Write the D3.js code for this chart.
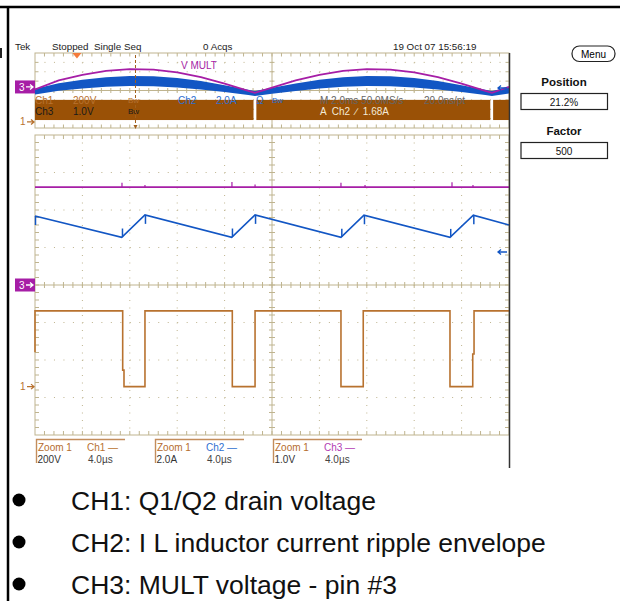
<!DOCTYPE html>
<html>
<head>
<meta charset="utf-8">
<script src="https://cdn.jsdelivr.net/npm/d3@7"></script>
<style>
  body { margin: 0; background: #fff; }
  svg { display: block; }
  text { font-family: "Liberation Sans", Arial, sans-serif; }
</style>
</head>
<body>
<script>
// ---- overview window (2.0 ms/div), levels in divisions from screen centre
const overTimes   = [0, 1, 2, 3, 4, 5, 6, 7, 8, 9, 9.28, 10, 11, 12, 13, 14, 15, 16, 17, 18, 19, 19.28, 20];
const multLevels  = [0.12, 1.07, 1.66, 2.09, 2.28, 2.23, 1.94, 1.42, 0.74, -0.04, -0.25, 0.31, 1.07, 1.66, 2.09, 2.28, 2.23, 1.94, 1.42, 0.74, -0.04, -0.25, 0.40];
const ilEnvTop    = [0.18, 0.78, 1.15, 1.42, 1.55, 1.51, 1.33, 1.01, 0.56, 0.09, -0.05, 0.30, 0.76, 1.15, 1.42, 1.55, 1.51, 1.33, 1.01, 0.56, 0.09, -0.05, 0.34];
const ilEnvBottom = [-0.43, -0.03, 0.21, 0.39, 0.48, 0.45, 0.33, 0.12, -0.17, -0.49, -0.59, -0.35, -0.04, 0.22, 0.39, 0.48, 0.45, 0.33, 0.12, -0.17, -0.49, -0.59, -0.32];
const drainBandStart = [0, 9.34, 19.33];     // ms
const drainBandEnd   = [9.22, 19.21, 20];    // ms
const drainBandLevels = [-1.0, -3.15];       // div
const zoomPosition = 4.24;                   // ms (21.2 %)
const triggerTime = 1.77;                    // ms

// ---- zoom window (4.0 us/div)
const ilTimes  = [0, 7.32, 9.28, 16.6, 18.57, 25.82, 27.76, 35.02, 36.99, 40];
const ilLevels = [1.84, 1.27, 1.87, 1.27, 1.87, 1.27, 1.86, 1.27, 1.86, 1.6];
const ilGlitchTimes = [0, 7.34, 9.28, 16.62, 18.57, 25.85, 27.76, 35.04, 36.99];
const ilGlitchSizes = [-0.24, 0.23, -0.24, 0.23, -0.24, 0.22, -0.24, 0.22, -0.24];
const drainTimes  = [0, 0, 7.40, 7.40, 7.51, 7.51, 9.28, 9.28, 16.65, 16.65, 18.57, 18.57, 25.82, 25.82, 27.70, 27.70, 35.02, 35.02, 36.94, 36.94, 37.05, 37.05, 40];
const drainLevels = [-1.79, -0.69, -0.69, -2.27, -2.27, -2.71, -2.71, -0.69, -0.69, -2.71, -2.71, -0.69, -0.69, -2.71, -2.71, -0.69, -0.69, -2.71, -2.71, -1.84, -1.84, -0.69, -0.69];
const multZoomLevel = 2.61;
const multSpikeTimes = [7.34, 9.28, 16.62, 18.57, 25.82, 27.85, 35.19, 36.96];
const multSpikeSizes = [0.12, 0.06, 0.14, 0.07, 0.12, 0.06, 0.13, 0.06];

// ---- texts
const headerLabels = ["Tek", "Stopped  Single Seq", "0 Acqs", "19 Oct 07 15:56:19"];
const zoomChannels = ["Ch1", "Ch2", "Ch3"];
const zoomScales = ["200V", "2.0A", "1.0V"];
const zoomTimebase = "4.0\u00b5s";
const legendItems = ["CH1: Q1/Q2 drain voltage", "CH2: I L inductor current ripple envelope", "CH3: MULT voltage - pin #3"];

const GRID = "#bfb48f", BLUE = "#1256c4", MAGENTA = "#a61ea6", BAR = "#9a5106", TRACE = "#b8722f";
const chColors = [TRACE, "#2f6fd0", "#b23cb2"];

const svg = d3.select("body").append("svg").attr("width", 620).attr("height", 601);

const xOver = d3.scaleLinear().domain([0, 20]).range([35, 509]);
const yOver = d3.scaleLinear().domain([-4, 4]).range([128, 53]);
const xZoom = d3.scaleLinear().domain([0, 40]).range([35, 509]);
const yZoom = d3.scaleLinear().domain([-4, 4]).range([435, 135]);

// page frame
svg.append("line").attr("x1", 0).attr("x2", 620).attr("y1", 7).attr("y2", 7).attr("stroke", "#000").attr("stroke-width", 2.5);
svg.append("line").attr("x1", 8).attr("x2", 8).attr("y1", 6).attr("y2", 601).attr("stroke", "#000").attr("stroke-width", 2.5);
svg.append("rect").attr("x", 0).attr("y", 48).attr("width", 2).attr("height", 10).attr("fill", "#222");

function graticule(xs, ys, minorX, minorY, tick) {
  const [L, R] = xs.range(), [B, T] = ys.range();
  const dx = (R - L) / 10, dy = (B - T) / 8;
  const g = svg.append("g").attr("stroke", GRID).attr("fill", "none");
  const sx = dx / minorX, sy = dy / minorY;
  for (let i = 1; i < 10; i++) {
    if (i === 5) continue;
    g.append("line").attr("x1", L + i * dx).attr("x2", L + i * dx).attr("y1", T + sy).attr("y2", B)
      .attr("stroke-dasharray", `1 ${sy - 1}`);
  }
  for (let j = 1; j < 8; j++) {
    if (j === 4) continue;
    g.append("line").attr("x1", L + sx).attr("x2", R).attr("y1", T + j * dy).attr("y2", T + j * dy)
      .attr("stroke-dasharray", `1 ${sx - 1}`);
  }
  const cx = L + 5 * dx, cy = T + 4 * dy;
  g.append("line").attr("x1", cx).attr("x2", cx).attr("y1", T).attr("y2", B);
  g.append("line").attr("x1", L).attr("x2", R).attr("y1", cy).attr("y2", cy);
  g.append("rect").attr("x", L).attr("y", T).attr("width", R - L).attr("height", B - T);
  for (let k = 1; k < 10 * minorX; k++) {
    const x = L + k * sx;
    g.append("line").attr("x1", x).attr("x2", x).attr("y1", cy - tick).attr("y2", cy + tick);
    g.append("line").attr("x1", x).attr("x2", x).attr("y1", T).attr("y2", T + tick + 1);
    g.append("line").attr("x1", x).attr("x2", x).attr("y1", B).attr("y2", B - tick - 1);
  }
  for (let k = 1; k < 8 * minorY; k++) {
    const y = T + k * sy;
    g.append("line").attr("x1", cx - tick).attr("x2", cx + tick).attr("y1", y).attr("y2", y);
    g.append("line").attr("x1", L).attr("x2", L + tick + 1).attr("y1", y).attr("y2", y);
    g.append("line").attr("x1", R).attr("x2", R - tick - 1).attr("y1", y).attr("y2", y);
  }
}
graticule(xOver, yOver, 5, 1, 2.5);
graticule(xZoom, yZoom, 5, 5, 3);

// clip paths
const defs = svg.append("defs");
defs.append("clipPath").attr("id", "clipOver").append("rect").attr("x", 35).attr("y", 53).attr("width", 474).attr("height", 75);
defs.append("clipPath").attr("id", "clipZoom").append("rect").attr("x", 34).attr("y", 135).attr("width", 476).attr("height", 300);

// header
const hdrX = [15, 52, 203, 393];
svg.append("g").selectAll("text").data(headerLabels).join("text")
  .attr("x", (d, i) => hdrX[i]).attr("y", 50).attr("font-size", 9.8).attr("fill", "#222")
  .style("white-space", "pre").text(d => d);

// ---- overview traces
const over = svg.append("g").attr("clip-path", "url(#clipOver)");
const overData = overTimes.map((t, i) => ({ t, mult: multLevels[i], hi: ilEnvTop[i], lo: ilEnvBottom[i] }));
over.append("path").datum(overData)
  .attr("d", d3.area().x(d => xOver(d.t)).y0(d => yOver(d.lo)).y1(d => yOver(d.hi)))
  .attr("fill", BLUE);
over.append("path").datum(overData)
  .attr("d", d3.line().x(d => xOver(d.t)).y(d => yOver(d.mult)))
  .attr("fill", "none").attr("stroke", MAGENTA).attr("stroke-width", 1.8);

// first readout row (partly covered by drain band)
const row1 = [["Ch1", 35, TRACE], ["200V", 73, TRACE], ["Ch2", 178, "#2f6fd0"], ["2.0A", 216, "#2f6fd0"],
              ["\u03a9", 256, "#2f6fd0"], ["M 2.0ms 50.0MS/s", 320, "#666"], ["20.0ns/pt", 424, "#666"]];
svg.append("g").selectAll("text").data(row1).join("text")
  .attr("x", d => d[1]).attr("y", 104).attr("font-size", 10).attr("fill", d => d[2]).text(d => d[0]);
svg.append("text").attr("x", 128).attr("y", 103).attr("font-size", 8).attr("fill", TRACE).text("Bw");
svg.append("text").attr("x", 272).attr("y", 103).attr("font-size", 8).attr("fill", "#2f6fd0").text("Bw");

over.append("g").selectAll("rect").data(drainBandStart).join("rect")
  .attr("x", d => xOver(d)).attr("width", (d, i) => xOver(drainBandEnd[i]) - xOver(d))
  .attr("y", yOver(drainBandLevels[0])).attr("height", yOver(drainBandLevels[1]) - yOver(drainBandLevels[0]))
  .attr("fill", BAR);

const row2 = [["Ch3", 35, "#1a1a1a"], ["1.0V", 73, "#1a1a1a"], ["A  Ch2  \u2215  1.68A", 320, "#f3ead8"]];
svg.append("g").selectAll("text").data(row2).join("text")
  .attr("x", d => d[1]).attr("y", 114.5).attr("font-size", 10).attr("fill", d => d[2])
  .style("white-space", "pre").text(d => d[0]);
svg.append("text").attr("x", 128).attr("y", 114).attr("font-size", 8).attr("fill", "#1a1a1a").text("Bw");

svg.append("text").attr("x", 181).attr("y", 69).attr("font-size", 10).attr("fill", MAGENTA).text("V MULT");

// zoom position marker
svg.append("line").attr("x1", xOver(zoomPosition)).attr("x2", xOver(zoomPosition)).attr("y1", 55).attr("y2", 127)
  .attr("stroke", "#a0601c").attr("stroke-width", 1).attr("stroke-dasharray", "3 2");
svg.append("path").attr("d", `M${xOver(zoomPosition) - 2},125L${xOver(zoomPosition) + 2},125L${xOver(zoomPosition)},129Z`).attr("fill", "#a0601c");
// trigger marker
svg.append("path").attr("d", `M${xOver(triggerTime) - 4.5},53L${xOver(triggerTime) + 4.5},53L${xOver(triggerTime)},58.5Z`).attr("fill", "#f47b3c");

// ---- zoom traces
const zoom = svg.append("g").attr("clip-path", "url(#clipZoom)");
zoom.append("line").attr("x1", xZoom(0)).attr("x2", xZoom(40)).attr("y1", yZoom(multZoomLevel)).attr("y2", yZoom(multZoomLevel))
  .attr("stroke", MAGENTA).attr("stroke-width", 1.6);
zoom.append("g").selectAll("line").data(multSpikeTimes).join("line")
  .attr("x1", d => xZoom(d)).attr("x2", d => xZoom(d))
  .attr("y1", yZoom(multZoomLevel)).attr("y2", (d, i) => yZoom(multZoomLevel + multSpikeSizes[i]))
  .attr("stroke", MAGENTA).attr("stroke-width", 1.2);

const ilAt = d3.scaleLinear().domain(ilTimes).range(ilLevels);
zoom.append("path").datum(ilTimes.map((t, i) => [t, ilLevels[i]]))
  .attr("d", d3.line().x(d => xZoom(d[0])).y(d => yZoom(d[1])))
  .attr("fill", "none").attr("stroke", BLUE).attr("stroke-width", 1.6);
zoom.append("g").selectAll("line").data(ilGlitchTimes).join("line")
  .attr("x1", d => xZoom(d) + 0.5).attr("x2", d => xZoom(d) + 0.5)
  .attr("y1", d => yZoom(ilAt(d))).attr("y2", (d, i) => yZoom(ilAt(d) + ilGlitchSizes[i]))
  .attr("stroke", BLUE).attr("stroke-width", 1.5);

zoom.append("path").datum(drainTimes.map((t, i) => [t, drainLevels[i]]))
  .attr("d", d3.line().x(d => xZoom(d[0])).y(d => yZoom(d[1])))
  .attr("fill", "none").attr("stroke", TRACE).attr("stroke-width", 1.6);

// right edge of screen
svg.append("line").attr("x1", 509.5).attr("x2", 509.5).attr("y1", 53).attr("y2", 468).attr("stroke", "#333").attr("stroke-width", 1.5);

// ground / channel markers, arrows drawn as small paths
function arrow(x0, x1, y, color) {
  const dir = Math.sign(x1 - x0);
  svg.append("path")
    .attr("d", `M${x0},${y}H${x1}M${x1 - dir * 3},${y - 2.5}L${x1},${y}L${x1 - dir * 3},${y + 2.5}`)
    .attr("fill", "none").attr("stroke", color).attr("stroke-width", 1.3);
}
function boxMarker(y, label) {
  svg.append("rect").attr("x", 15).attr("y", y - 6.5).attr("width", 20).attr("height", 13).attr("fill", MAGENTA);
  svg.append("text").attr("x", 19).attr("y", y + 4).attr("font-size", 10).attr("fill", "#fff").text(label);
  arrow(26, 33, y, "#fff");
}
function textMarker(y, label, color) {
  svg.append("text").attr("x", 20).attr("y", y + 3.5).attr("font-size", 10).attr("fill", color).text(label);
  arrow(27, 34, y, color);
}
boxMarker(yOver(0.4) + 0.2, "3");
textMarker(yOver(-3.35), "1", TRACE);
boxMarker(yZoom(0), "3");
textMarker(yZoom(-2.71), "1", TRACE);
arrow(507, 498, 88, BLUE);
arrow(507, 498, 252, BLUE);

// zoom readouts
const grpX = [36, 155, 273];
const grp = svg.append("g").selectAll("g").data(zoomChannels).join("g")
  .attr("transform", (d, i) => `translate(${grpX[i]},0)`);
grp.append("path").attr("d", "M0.5,463V439.5H89").attr("fill", "none").attr("stroke", "#c38d5c").attr("stroke-width", 1.4);
grp.append("text").attr("x", 2).attr("y", 450.5).attr("font-size", 10).attr("fill", "#b56c2e").text("Zoom 1");
grp.append("text").attr("x", 51).attr("y", 450.5).attr("font-size", 10).attr("fill", (d, i) => chColors[i]).text(d => d + " \u2014");
grp.append("text").attr("x", 1.5).attr("y", 463).attr("font-size", 10).attr("fill", "#333").text((d, i) => zoomScales[i]);
grp.append("text").attr("x", 52).attr("y", 463).attr("font-size", 10).attr("fill", "#444").text(zoomTimebase);

// right-hand menu
svg.append("rect").attr("x", 572).attr("y", 46).attr("width", 43).attr("height", 15.5).attr("rx", 7.5)
  .attr("fill", "#fff").attr("stroke", "#222").attr("stroke-width", 1.2);
svg.append("text").attr("x", 593.5).attr("y", 57.5).attr("text-anchor", "middle").attr("font-size", 10).text("Menu");
const menuTitles = ["Position", "Factor"], menuValues = ["21.2%", "500"];
menuTitles.forEach((t, i) => {
  const y0 = 86 + i * 49;
  svg.append("text").attr("x", 564).attr("y", y0).attr("text-anchor", "middle").attr("font-size", 11.5).attr("font-weight", "bold").attr("fill", "#111").text(t);
  svg.append("rect").attr("x", 521).attr("y", y0 + 7.5).attr("width", 86.5).attr("height", 16).attr("fill", "#fff").attr("stroke", "#222").attr("stroke-width", 1.2);
  svg.append("text").attr("x", 564).attr("y", y0 + 19.5).attr("text-anchor", "middle").attr("font-size", 10).attr("fill", "#111").text(menuValues[i]);
});

// legend
const leg = svg.append("g").selectAll("g").data(legendItems).join("g")
  .attr("transform", (d, i) => `translate(0,${500 + i * 42})`);
leg.append("circle").attr("cx", 19).attr("cy", 0).attr("r", 6.5).attr("fill", "#000");
leg.append("text").attr("x", 71).attr("y", 9.5).attr("font-size", 26.5).attr("fill", "#111").text(d => d);
</script>
</body>
</html>
